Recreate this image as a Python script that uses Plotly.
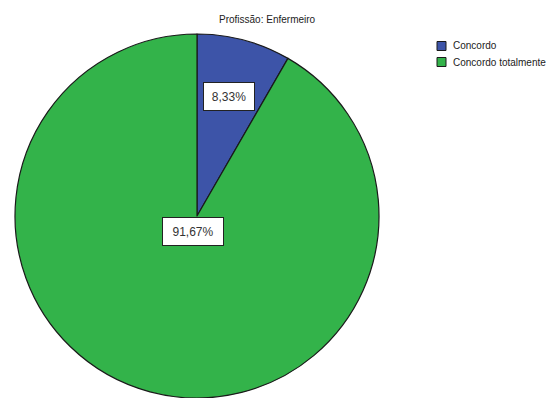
import math
import plotly.graph_objects as go

# Response shares for nurses
categories = ["Concordo", "Concordo totalmente"]
percentages = [8.33, 91.67]
slice_colors = ["#3D54A8", "#33B34A"]
# how far from the centre (as a fraction of the radius) each label sits
label_radius_frac = [0.68, 0.087]

W, H = 551, 398
FONT = "Liberation Sans, Arial"
dom_x = [(197 - 182) / W, (197 + 182) / W]
dom_y = [0.0, 364 / H]

fig = go.Figure(go.Pie(
    labels=categories,
    values=percentages,
    sort=False,
    direction="clockwise",
    rotation=0,
    marker=dict(colors=slice_colors, line=dict(color="#1a1a1a", width=1.2)),
    textinfo="none",
    hoverinfo="label+percent",
    domain=dict(x=dom_x, y=dom_y),
    showlegend=False,
))

# pie geometry in pixels
cx = (dom_x[0] + dom_x[1]) / 2 * W
cy = (dom_y[0] + dom_y[1]) / 2 * H
r = min((dom_x[1] - dom_x[0]) * W, (dom_y[1] - dom_y[0]) * H) / 2

total = sum(percentages)
start = 0.0
for val, frac in zip(percentages, label_radius_frac):
    mid = start + val / total * 360 / 2
    start += val / total * 360
    ang = math.radians(mid)
    px = cx + frac * r * math.sin(ang)
    py = cy + frac * r * math.cos(ang)
    txt = f"{val:.2f}".replace(".", ",") + "%"
    fig.add_annotation(
        x=px / W, y=py / H, xref="paper", yref="paper",
        text=txt, showarrow=False,
        font=dict(family=FONT, size=12, color="#333333"),
        bgcolor="white", bordercolor="#222222", borderwidth=1,
        width=len(txt) * 10 - 4, height=23, borderpad=2,
        xanchor="center", yanchor="middle",
    )

fig.add_annotation(
    x=267 / W, y=1 - 19 / H, xref="paper", yref="paper",
    text="Profissão: Enfermeiro", showarrow=False,
    font=dict(family=FONT, size=10, color="#222222"),
    xanchor="center", yanchor="middle",
)

# legend drawn as swatches + labels in the top-right corner
for i, (name, col) in enumerate(zip(categories, slice_colors)):
    y_mid = 46 + 16 * i
    fig.add_shape(
        type="rect", xref="paper", yref="paper",
        x0=437 / W, x1=446 / W,
        y0=1 - (y_mid + 4.5) / H, y1=1 - (y_mid - 4.5) / H,
        fillcolor=col, line=dict(color="#1a1a1a", width=1),
    )
    fig.add_annotation(
        x=451 / W, y=1 - y_mid / H, xref="paper", yref="paper",
        text=name, showarrow=False,
        font=dict(family=FONT, size=10, color="#222222"),
        xanchor="left", yanchor="middle",
    )

fig.update_layout(
    width=W, height=H,
    margin=dict(l=0, r=0, t=0, b=0),
    paper_bgcolor="white",
    plot_bgcolor="white",
)

fig.write_html("out.html")
